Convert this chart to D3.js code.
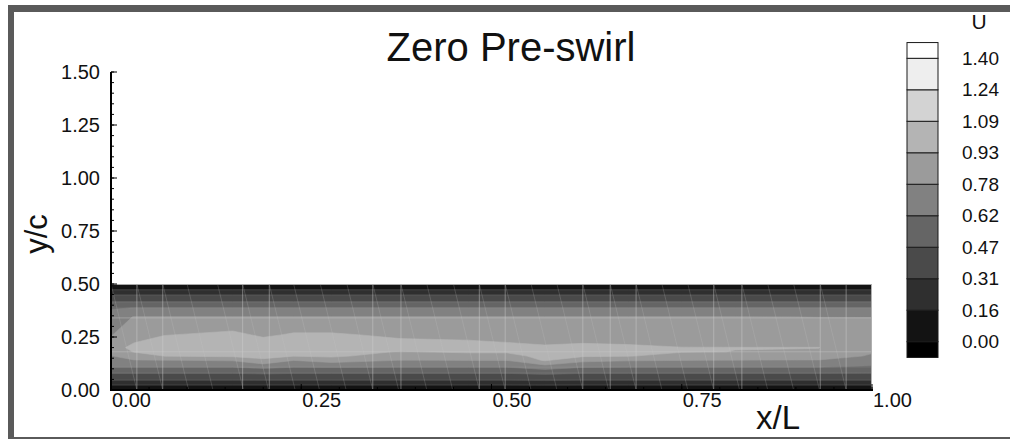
<!DOCTYPE html>
<html>
<head>
<meta charset="utf-8">
<script src="https://cdn.jsdelivr.net/npm/d3@7"></script>
<style>
  body { margin: 0; background: #fff; }
  svg { display: block; }
  text { font-family: "Liberation Sans", Arial, Helvetica, sans-serif; fill: #111; }
</style>
</head>
<body>
<svg id="chart" width="1010" height="439"></svg>
<script>
// ---- Data -----------------------------------------------------------------
// Streamwise stations (x/L) of the sampled U field
const xStations = [0, 0.03, 0.07, 0.16, 0.20, 0.24, 0.29, 0.38, 0.47, 0.52, 0.57, 0.62, 0.68, 0.75, 0.82, 0.93, 1.0];
// Cross-stream stations (y/c) of the sampled U field
const yStations = [0, 0.024, 0.047, 0.08, 0.108, 0.14, 0.16, 0.18, 0.20, 0.23, 0.26, 0.30, 0.345, 0.387, 0.415, 0.448, 0.472, 0.5];
// U values, one row per y station, one column per x station
const uField = [
  [0.02, 0.02, 0.02, 0.02, 0.02, 0.02, 0.02, 0.02, 0.02, 0.02, 0.02, 0.02, 0.02, 0.02, 0.02, 0.02, 0.02],
  [0.165,0.165,0.165,0.165,0.165,0.165,0.165,0.165,0.165,0.165,0.17, 0.165,0.165,0.165,0.165,0.165,0.165],
  [0.315,0.315,0.315,0.315,0.32, 0.315,0.315,0.315,0.315,0.315,0.33, 0.315,0.315,0.315,0.315,0.315,0.315],
  [0.475,0.475,0.475,0.475,0.49, 0.475,0.475,0.475,0.475,0.475,0.50, 0.475,0.475,0.475,0.475,0.475,0.47],
  [0.625,0.625,0.625,0.625,0.66, 0.625,0.63, 0.625,0.625,0.625,0.70, 0.63, 0.625,0.625,0.625,0.625,0.60],
  [0.72, 0.77, 0.775,0.79, 0.91, 0.78, 0.85, 0.775,0.78, 0.78, 0.95, 0.82, 0.79, 0.78, 0.775,0.77, 0.72],
  [0.77, 0.85, 0.935,0.96, 0.97, 0.935,0.96, 0.86, 0.88, 0.88, 0.98, 0.95, 0.94, 0.88, 0.87, 0.86, 0.76],
  [0.83, 0.94, 0.98, 1.00, 1.00, 0.99, 0.99, 0.925,0.95, 0.95, 0.97, 0.97, 0.96, 0.94, 0.932,0.925,0.79],
  [0.87, 0.97, 1.00, 1.02, 1.00, 1.01, 1.01, 0.98, 0.98, 0.97, 0.95, 0.96, 0.95, 0.935,0.935,0.935,0.84],
  [0.85, 0.92, 0.98, 1.00, 0.97, 0.99, 0.99, 0.95, 0.94, 0.925,0.91, 0.92, 0.915,0.91, 0.90, 0.895,0.86],
  [0.77, 0.88, 0.928,0.97, 0.91, 0.95, 0.95, 0.91, 0.90, 0.89, 0.88, 0.89, 0.88, 0.88, 0.875,0.87, 0.85],
  [0.72, 0.84, 0.87, 0.89, 0.87, 0.88, 0.88, 0.86, 0.86, 0.85, 0.85, 0.85, 0.85, 0.85, 0.845,0.84, 0.82],
  [0.68, 0.785,0.785,0.785,0.785,0.785,0.785,0.785,0.785,0.785,0.785,0.785,0.785,0.785,0.785,0.775,0.775],
  [0.61, 0.625,0.625,0.625,0.625,0.625,0.625,0.625,0.625,0.625,0.625,0.625,0.625,0.625,0.625,0.625,0.625],
  [0.475,0.475,0.475,0.475,0.475,0.475,0.475,0.475,0.475,0.475,0.475,0.475,0.475,0.475,0.475,0.475,0.475],
  [0.315,0.315,0.315,0.315,0.315,0.315,0.315,0.315,0.315,0.315,0.315,0.315,0.315,0.315,0.315,0.315,0.315],
  [0.165,0.165,0.165,0.165,0.165,0.165,0.165,0.165,0.165,0.165,0.165,0.165,0.165,0.165,0.165,0.165,0.165],
  [0.02, 0.02, 0.02, 0.02, 0.02, 0.02, 0.02, 0.02, 0.02, 0.02, 0.02, 0.02, 0.02, 0.02, 0.02, 0.02, 0.02]
];
// Contour levels of U and their legend labels
const levels = [0, 0.1556, 0.3111, 0.4667, 0.6222, 0.7778, 0.9333, 1.0889, 1.2444, 1.40];
const levelLabels = ["0.00", "0.16", "0.31", "0.47", "0.62", "0.78", "0.93", "1.09", "1.24", "1.40"];
// Grey flood for each band: below the first level, then one per level
const bandGreys = ["#000000", "#131313", "#2f2f2f", "#4a4a4a", "#656565", "#818181",
                   "#9b9b9b", "#b4b4b4", "#d3d3d3", "#eeeeee", "#ffffff"];
// Axis ticks
const xTicks = [0, 0.25, 0.5, 0.75, 1.0];
const xTickLabels = ["0.00", "0.25", "0.50", "0.75", "1.00"];
const yTicks = [0, 0.25, 0.5, 0.75, 1.0, 1.25, 1.5];
const yTickLabels = ["0.00", "0.25", "0.50", "0.75", "1.00", "1.25", "1.50"];
// Computational mesh overlay
const meshX = [0.034, 0.068, 0.173, 0.208, 0.344, 0.381, 0.484, 0.518, 0.620, 0.656, 0.690, 0.792, 0.829, 0.932, 0.966];
const meshY = [0.024, 0.047, 0.08, 0.108, 0.18, 0.34, 0.387, 0.415, 0.448, 0.472];
const meshYMain = [0.18, 0.34];
const meshDiag = [0.0, 0.034, 0.068, 0.10, 0.14, 0.173, 0.208, 0.24, 0.275, 0.31, 0.344, 0.381, 0.415, 0.45,
                  0.484, 0.518, 0.552, 0.586, 0.620, 0.656, 0.690, 0.724, 0.758, 0.792, 0.829, 0.863, 0.897, 0.932];
const diagRun = 0.034;

// ---- Layout ---------------------------------------------------------------
const svg = d3.select("#chart");
const W = 1010, H = 439;
const x = d3.scaleLinear().domain([0, 1]).range([111, 872]);
const y = d3.scaleLinear().domain([0, 1.5]).range([390, 72]);
const fieldTop = 0.5;

svg.append("rect").attr("width", W).attr("height", H).attr("fill", "#fff");

// Page frame
const frame = svg.append("g").attr("fill", "#5a5a5a");
frame.append("rect").attr("x", 8).attr("y", 5).attr("width", W - 8).attr("height", 7);
frame.append("rect").attr("x", 8).attr("y", 5).attr("width", 6).attr("height", H - 5);
frame.append("rect").attr("x", 8).attr("y", 437).attr("width", W - 8).attr("height", 2);

// ---- Flooded contours -----------------------------------------------------
const nx = xStations.length, ny = yStations.length;
const flat = [];
for (let j = 0; j < ny; j++) for (let i = 0; i < nx; i++) flat.push(uField[j][i]);

// grid index -> physical coordinate (non-uniform stations)
const ix = d3.scaleLinear().domain(d3.range(nx)).range(xStations).clamp(true);
const iy = d3.scaleLinear().domain(d3.range(ny)).range(yStations).clamp(true);
const project = d3.geoTransform({
  point: function (px, py) { this.stream.point(x(ix(px - 0.5)), y(iy(py - 0.5))); }
});
const path = d3.geoPath(project);

const clip = svg.append("clipPath").attr("id", "field");
clip.append("rect").attr("x", x(0)).attr("y", y(fieldTop))
  .attr("width", x(1) - x(0)).attr("height", y(0) - y(fieldTop));

const field = svg.append("g").attr("clip-path", "url(#field)");
field.append("rect").attr("x", x(0)).attr("y", y(fieldTop))
  .attr("width", x(1) - x(0)).attr("height", y(0) - y(fieldTop)).attr("fill", bandGreys[0]);

const bands = d3.contours().size([nx, ny]).thresholds(levels)(flat);
field.selectAll("path.band").data(bands).join("path")
  .attr("class", "band")
  .attr("d", path)
  .attr("fill", (d, k) => bandGreys[k + 1])
  .attr("stroke", (d, k) => bandGreys[k + 1])
  .attr("stroke-width", 0.6);

// Mesh overlay
const mesh = field.append("g").attr("fill", "none");
mesh.selectAll("line.mx").data(meshX).join("line")
  .attr("x1", d => x(d)).attr("x2", d => x(d))
  .attr("y1", y(fieldTop)).attr("y2", y(0))
  .attr("stroke", "#d0d0d0").attr("stroke-opacity", 0.45).attr("stroke-width", 1);
mesh.selectAll("line.my").data(meshY).join("line")
  .attr("x1", x(0)).attr("x2", x(1))
  .attr("y1", d => y(d)).attr("y2", d => y(d))
  .attr("stroke", "#c8c8c8").attr("stroke-opacity", 0.13).attr("stroke-width", 1);
mesh.selectAll("line.mym").data(meshYMain).join("line")
  .attr("x1", x(0)).attr("x2", x(1))
  .attr("y1", d => y(d)).attr("y2", d => y(d))
  .attr("stroke", "#d0d0d0").attr("stroke-opacity", 0.3).attr("stroke-width", 1);
mesh.selectAll("line.md").data(meshDiag).join("line")
  .attr("x1", d => x(d)).attr("x2", d => x(d + diagRun))
  .attr("y1", y(fieldTop)).attr("y2", y(0))
  .attr("stroke", "#c8c8c8").attr("stroke-opacity", 0.2).attr("stroke-width", 1);

// Field boundary
svg.append("line").attr("x1", x(0)).attr("x2", x(1)).attr("y1", y(fieldTop) + 0.5).attr("y2", y(fieldTop) + 0.5)
  .attr("stroke", "#a8a8a8").attr("stroke-width", 1);
svg.append("line").attr("x1", x(1) - 0.5).attr("x2", x(1) - 0.5).attr("y1", y(fieldTop)).attr("y2", y(0))
  .attr("stroke", "#b0b0b0").attr("stroke-width", 1);

// ---- Axes -----------------------------------------------------------------
const axes = svg.append("g").attr("stroke", "#000");
axes.append("line").attr("x1", x(0)).attr("x2", x(0)).attr("y1", y(1.5)).attr("y2", y(0) + 1)
  .attr("stroke-width", 2);
axes.append("line").attr("x1", x(0) - 1).attr("x2", x(1) + 1).attr("y1", y(0)).attr("y2", y(0))
  .attr("stroke-width", 2);

const yMinor = d3.range(0, 1.5001, 0.05);
axes.selectAll("line.ymin").data(yMinor).join("line")
  .attr("x1", x(0)).attr("x2", x(0) + 3)
  .attr("y1", d => y(d)).attr("y2", d => y(d)).attr("stroke-width", 1);
axes.selectAll("line.ymaj").data(yTicks).join("line")
  .attr("x1", x(0)).attr("x2", x(0) + 6)
  .attr("y1", d => y(d)).attr("y2", d => y(d)).attr("stroke-width", 1);

const xMinor = d3.range(0, 1.0001, 0.05);
axes.selectAll("line.xmin").data(xMinor).join("line")
  .attr("x1", d => x(d)).attr("x2", d => x(d))
  .attr("y1", y(0)).attr("y2", y(0) - 3).attr("stroke-width", 1);
axes.selectAll("line.xmaj").data(xTicks).join("line")
  .attr("x1", d => x(d)).attr("x2", d => x(d))
  .attr("y1", y(0)).attr("y2", y(0) - 6).attr("stroke-width", 1);

svg.selectAll("text.ylab").data(yTicks).join("text")
  .attr("class", "ylab")
  .attr("x", x(0) - 11).attr("y", d => y(d)).attr("dy", "0.35em")
  .attr("text-anchor", "end").attr("font-size", 20)
  .text((d, k) => yTickLabels[k]);
svg.selectAll("text.xlab").data(xTicks).join("text")
  .attr("class", "xlab")
  .attr("x", d => x(d) + 1).attr("y", y(0) + 17)
  .attr("text-anchor", "start").attr("font-size", 20)
  .text((d, k) => xTickLabels[k]);

svg.append("text").attr("x", 778).attr("y", 429).attr("text-anchor", "middle")
  .attr("font-size", 33).text("x/L");
svg.append("text").attr("transform", "translate(47,234) rotate(-90)").attr("text-anchor", "middle")
  .attr("font-size", 31).text("y/c");

// Title
svg.append("text").attr("x", 511).attr("y", 61).attr("text-anchor", "middle")
  .attr("font-size", 40).text("Zero Pre-swirl");

// ---- Legend ---------------------------------------------------------------
const ly = d3.scaleLinear().domain([0, levels.length - 1]).range([341.7, 58.3]);
const half = (ly(0) - ly(1)) / 2;
const lx0 = 907, lw = 31;
const legendBands = d3.range(bandGreys.length).map(k => ({
  grey: bandGreys[k],
  top: k === bandGreys.length - 1 ? ly(levels.length - 1) - half : ly(k),
  bottom: k === 0 ? ly(0) + half : ly(k - 1)
}));
const legend = svg.append("g");
legend.selectAll("rect").data(legendBands).join("rect")
  .attr("x", lx0).attr("width", lw)
  .attr("y", d => d.top).attr("height", d => d.bottom - d.top)
  .attr("fill", d => d.grey)
  .attr("stroke", "#1a1a1a").attr("stroke-width", 1);
legend.selectAll("text").data(levels).join("text")
  .attr("x", 962).attr("y", (d, k) => ly(k)).attr("dy", "0.35em")
  .attr("font-size", 19).attr("fill", "#222")
  .text((d, k) => levelLabels[k]);
svg.append("text").attr("x", 979).attr("y", 29).attr("text-anchor", "middle")
  .attr("font-size", 21).text("U");
</script>
</body>
</html>
